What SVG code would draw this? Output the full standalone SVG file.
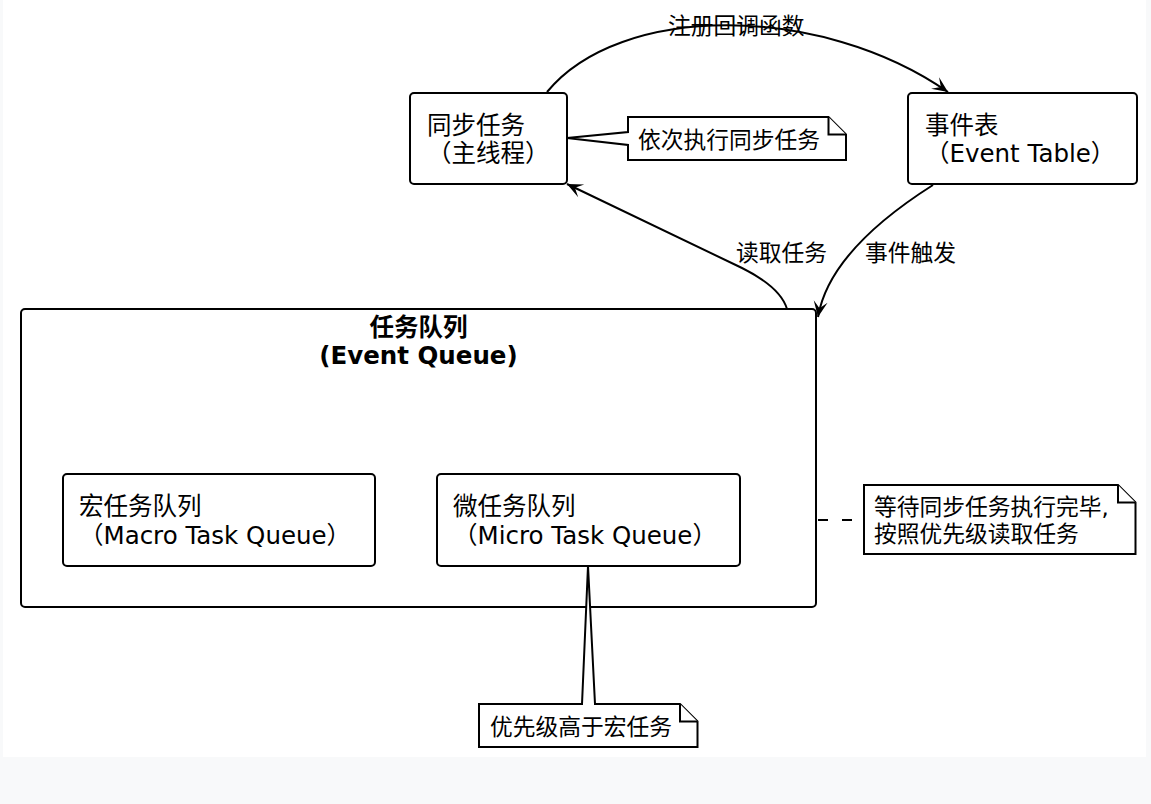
<svg xmlns="http://www.w3.org/2000/svg" width="1151" height="804" viewBox="0 0 1151 804">
<defs>
<style>
.bg{fill:#f8f9fa}
.page{fill:#ffffff}
.box{fill:#ffffff;stroke:#000000;stroke-width:2}
.note{fill:#ffffff;stroke:#000000;stroke-width:2;stroke-linejoin:miter}
.edge{fill:none;stroke:#000000;stroke-width:2}
.t{font-family:"DejaVu Sans","Noto Sans CJK SC",sans-serif;fill:#000000}
.n{font-size:24.5px}
.s{font-size:22.75px}
.b{font-size:24.5px;font-weight:bold}
</style>
<marker id="arr" markerUnits="userSpaceOnUse" viewBox="-17 -8 18 16" refX="0" refY="0" markerWidth="18" markerHeight="16" orient="auto">
<path d="M0,0 L-15.75,-7 L-8.75,0 L-15.75,7 Z" fill="#000000"/>
</marker>
</defs>
<rect class="bg" x="0" y="0" width="1151" height="804"/>
<rect class="page" x="3" y="0" width="1143" height="757"/>

<g id="queue">
<rect class="box" x="21" y="309" width="795" height="298" rx="4"/>
<text class="t b" x="418.5" y="336" text-anchor="middle">任务队列</text>
<text class="t b" x="418.5" y="364" text-anchor="middle">(Event Queue)</text>
</g>

<g id="macro">
<rect class="box" x="63" y="474" width="312" height="92" rx="4"/>
<text class="t n" x="79" y="515">宏任务队列</text>
<text class="t n" x="79" y="543.5">（Macro Task Queue）</text>
</g>

<g id="micro">
<rect class="box" x="437" y="474" width="303" height="92" rx="4"/>
<text class="t n" x="453" y="515">微任务队列</text>
<text class="t n" x="453" y="543.5">（Micro Task Queue）</text>
</g>

<g id="sync">
<rect class="box" x="410" y="93" width="157" height="91" rx="4"/>
<text class="t n" x="427" y="133.5">同步任务</text>
<text class="t n" x="427" y="162">（主线程）</text>
</g>

<g id="eventtable">
<rect class="box" x="908" y="93" width="229" height="91" rx="4"/>
<text class="t n" x="925" y="133.5">事件表</text>
<text class="t n" x="925" y="162">（Event Table）</text>
</g>

<g id="connectors">
<path class="edge" d="M547,92 C620,3 820,3 948,92" marker-end="url(#arr)"/>
<text class="t s" x="668" y="34">注册回调函数</text>
<path class="edge" d="M787,309 C782,292 764,279 742,268 L567,184" marker-end="url(#arr)"/>
<text class="t s" x="736" y="261">读取任务</text>
<path class="edge" d="M933,185 C870,225 826,270 818,317" marker-end="url(#arr)"/>
<text class="t s" x="865" y="261">事件触发</text>
<line class="edge" x1="818" y1="520" x2="852" y2="520" stroke-dasharray="10,14"/>
</g>

<g id="note-sync">
<path class="note" d="M628,117 L828.5,117 L846,134.5 L846,160 L628,160 L628,145 L567,138 L628,132 Z"/>
<path class="note" d="M828.5,117 L828.5,134.5 L846,134.5" fill="none"/>
<text class="t s" x="638" y="148">依次执行同步任务</text>
</g>

<g id="note-queue">
<path class="note" d="M864,485 L1118,485 L1135.5,502.5 L1135.5,554 L864,554 Z"/>
<path class="note" d="M1118,485 L1118,502.5 L1135.5,502.5" fill="none"/>
<text class="t s" x="874" y="515">等待同步任务执行完毕,</text>
<text class="t s" x="874" y="541.5">按照优先级读取任务</text>
</g>

<g id="note-micro">
<path class="note" d="M479,704 L582,704 L588,566 L595,704 L680,704 L697.5,721.5 L697.5,747 L479,747 Z"/>
<path class="note" d="M680,704 L680,721.5 L697.5,721.5" fill="none"/>
<text class="t s" x="490" y="735">优先级高于宏任务</text>
</g>
</svg>
